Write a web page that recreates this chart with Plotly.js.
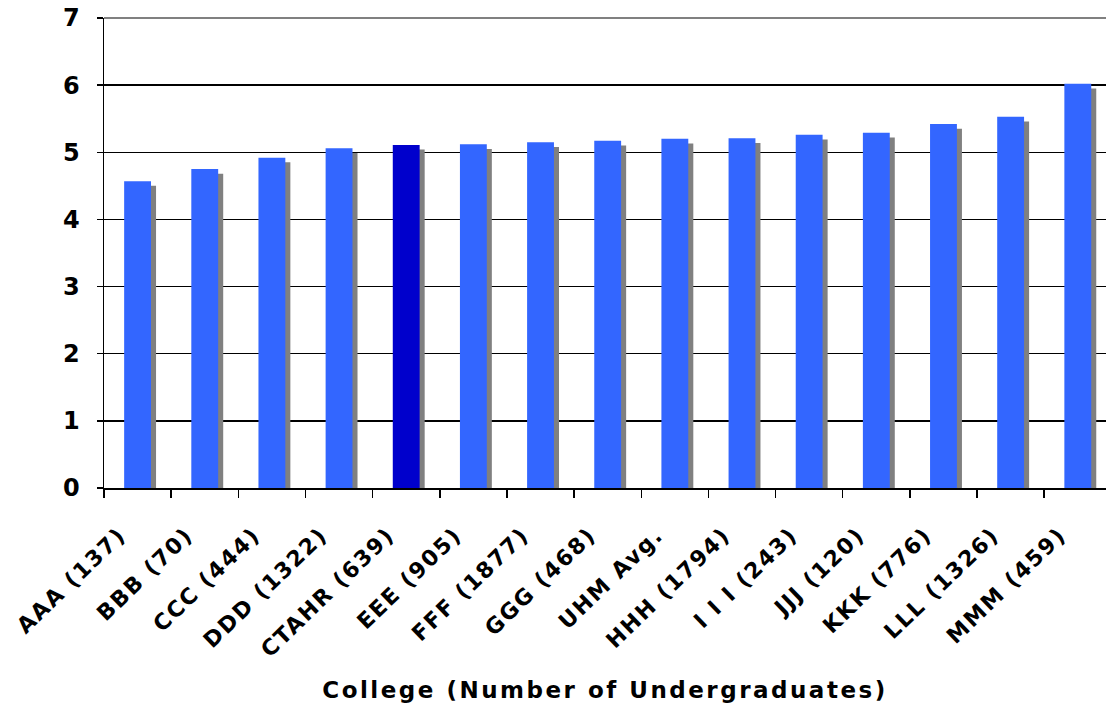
<!DOCTYPE html>
<html>
<head>
<meta charset="utf-8">
<script src="https://cdn.plot.ly/plotly-3.0.1.min.js"></script>
<style>
html,body{margin:0;padding:0;background:#fff;overflow:hidden;}
#chart{width:1106px;height:715px;}
#chart .xtick text{letter-spacing:1.8px;}
#chart .g-xtitle text{letter-spacing:2.5px;}
</style>
</head>
<body>
<div id="chart"></div>
<script>
const categories = ["AAA (137)","BBB (70)","CCC (444)","DDD (1322)","CTAHR (639)","EEE (905)","FFF (1877)","GGG (468)","UHM Avg.","HHH (1794)","I I I (243)","JJJ (120)","KKK (776)","LLL (1326)","MMM (459)"];
const values = [4.57,4.75,4.92,5.06,5.11,5.12,5.15,5.17,5.20,5.21,5.26,5.29,5.42,5.53,6.02];
const highlight = "CTAHR (639)";
const yTicks = [0,1,2,3,4,5,6,7];
const xTitle = "College (Number of Undergraduates)";

const blue = "#3366FF", dark = "#0000CC", shadow = "#808080";
const shadowDrop = 0.07;   // visual drop of the 3-D shadow
const barW = 0.4;
const F = "DejaVu Sans, Verdana, sans-serif";

const shadowTrace = {
  type: "bar", x: categories, y: values.map(v => v - shadowDrop),
  width: barW, offset: -barW/2 + 0.075,
  marker: {color: shadow, line: {width: 0}},
  hoverinfo: "skip", showlegend: false
};
const mainTrace = {
  type: "bar", x: categories, y: values,
  width: barW, offset: -barW/2,
  marker: {color: categories.map(c => c === highlight ? dark : blue), line: {width: 0}},
  showlegend: false
};

const layout = {
  width: 1106, height: 715,
  margin: {l: 104, r: 0, t: 18, b: 227},
  paper_bgcolor: "#fff", plot_bgcolor: "#fff",
  barmode: "overlay",
  showlegend: false,
  xaxis: {
    type: "category", range: [-0.5, 14.42],
    tickson: "boundaries", ticks: "outside", ticklen: 8, tickcolor: "#000", tickwidth: 1.5,
    showline: true, linecolor: "#000", linewidth: 1.5,
    showgrid: false, tickangle: -44,
    ticklabelstandoff: 24, ticklabelshift: -18,
    tickfont: {family: F, size: 22, color: "#000", weight: 700},
    title: {text: xTitle, font: {family: F, size: 23, color: "#000", weight: 700}, standoff: 34}
  },
  yaxis: {
    range: [0, 7], tickvals: yTicks, ticktext: yTicks.map(String),
    ticks: "outside", ticklen: 6, tickcolor: "#000", tickwidth: 1.5,
    showline: true, linecolor: "#000", linewidth: 1.5,
    showgrid: true, gridcolor: "#000", gridwidth: 1.5,
    zeroline: false, ticklabelstandoff: 12,
    tickfont: {family: F, size: 24, color: "#000", weight: 700}
  },
  shapes: [
    {type: "line", xref: "paper", yref: "paper", x0: 0, x1: 1, y0: 1, y1: 1,
     line: {color: "#808080", width: 2}}
  ]
};

Plotly.newPlot("chart", [shadowTrace, mainTrace], layout, {displayModeBar: false, staticPlot: true});
</script>
</body>
</html>
